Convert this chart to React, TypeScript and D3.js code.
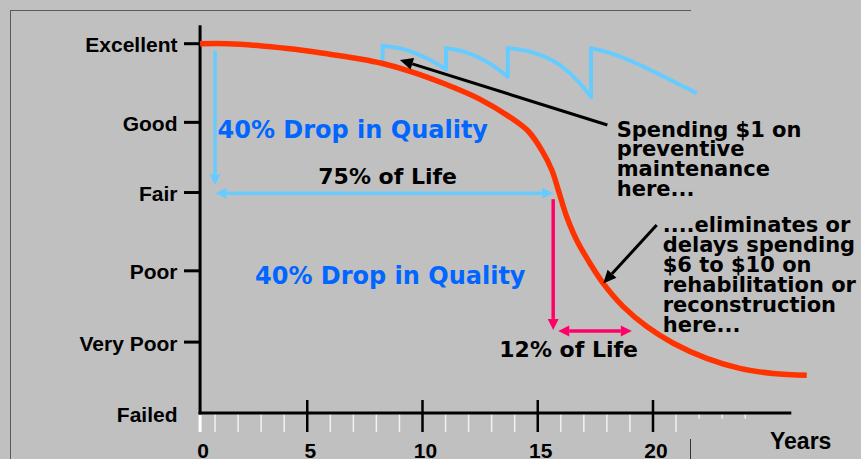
import React from "react";
import * as d3 from "d3";

// ---------- data ----------
const qualityLabels = ["Excellent", "Good", "Fair", "Poor", "Very Poor", "Failed"];
const qualityValues = [100, 78.7, 59.7, 38.5, 19.2, 0];

const yearTickLabels = ["0", "5", "10", "15", "20"];
const yearTickValues = [0.35, 5, 10, 15, 20];
const majorYears = [5, 10, 15, 20];
const minorYears = [1, 2, 3, 4, 6, 7, 8, 9, 11, 12, 13, 14, 16, 17, 18, 19, 21];
const shortMinorYears = [22, 23, 24];

// pavement condition curve without maintenance
const lifeYears = [0.35, 1.57, 3.02, 4.47, 5.92, 7.36, 8.23, 9.53, 10.98, 12.42, 13.87, 14.59, 15.17, 15.61, 15.89, 16.11, 16.26, 16.69, 17.27, 17.84, 18.71, 19.73, 20.88, 22.33, 23.77, 25.22, 26.67];
const lifeQuality = [100, 100, 99.4, 98.5, 97.2, 95.8, 94.7, 92.4, 89.1, 85.2, 79.8, 76.3, 71.2, 65.8, 60.4, 55.9, 53.1, 46.8, 40.5, 35.1, 28.8, 23.4, 18.9, 14.8, 12.1, 10.7, 10.2];

// preventive maintenance saw-tooth curve
const pmStartQuality = 94.85;
const pmSegYears = [
  [8.27, 9.02, 10.18, 11.02],
  [11.02, 11.92, 12.79, 13.7],
  [13.7, 14.81, 15.97, 16.83, 17.31],
  [17.31, 18.28, 19.58, 21.03, 21.9],
];
const pmSegQuality = [
  [99.4, 98.75, 96.05, 93.1],
  [98.75, 97.6, 95.1, 91.1],
  [98.75, 97.6, 94.2, 89.3, 85.6],
  [98.75, 97.2, 93.8, 89.3, 86.6],
];

// annotation arrows: [year, quality] tail -> tip
const blueDropFrom = [1.0, 98.1];
const blueDropTo = [1.0, 61.7];
const blueLifeLevel = 59.5;
const blueLifeYears = [1.02, 15.67];
const pinkDropFrom = [15.67, 57.9];
const pinkDropTo = [15.67, 22.5];
const pinkLifeLevel = 22.2;
const pinkLifeYears = [15.89, 19.08];
const pmArrowFrom = [18.02, 78.0];
const pmArrowTo = [9.02, 95.6];
const rehabArrowFrom = [20.16, 50.9];
const rehabArrowTo = [17.84, 35.1];

const dropText = "40% Drop in Quality";
const life75Text = "75% of Life";
const life12Text = "12% of Life";
const spendLines = ["Spending $1 on", "preventive", "maintenance", "here..."];
const rehabLines = ["....eliminates or", "delays spending", "$6 to $10 on", "rehabilitation or", "reconstruction", "here..."];
const xAxisTitle = "Years";

// ---------- styles ----------
const W = 861;
const H = 459;
const BG = "#c0c0c0";
const RED = "#ff3300";
const LBLUE = "#66ccff";
const BLUE = "#0066ff";
const PINK = "#ff0066";
const AXFONT = "'Liberation Sans', Arial, sans-serif";
const ANFONT = "'DejaVu Sans', Verdana, sans-serif";

function arrowHead(tip: number[], from: number[], len: number, half: number) {
  const dx = tip[0] - from[0];
  const dy = tip[1] - from[1];
  const d = Math.hypot(dx, dy) || 1;
  const ux = dx / d, uy = dy / d;
  const bx = tip[0] - ux * len, by = tip[1] - uy * len;
  const px = -uy, py = ux;
  return {
    base: [bx, by],
    points: `${tip[0]},${tip[1]} ${bx + px * half},${by + py * half} ${bx - px * half},${by - py * half}`,
  };
}

function Arrow({ a, b, color, width, len, half, both }: any) {
  const h1 = arrowHead(b, a, len, half);
  const h0 = both ? arrowHead(a, b, len, half) : null;
  const start = h0 ? h0.base : a;
  return (
    <g>
      <line x1={start[0]} y1={start[1]} x2={h1.base[0]} y2={h1.base[1]} stroke={color} strokeWidth={width} />
      <polygon points={h1.points} fill={color} />
      {h0 && <polygon points={h0.points} fill={color} />}
    </g>
  );
}

export default function App() {
  const x = d3.scaleLinear().domain([0, 20]).range([192, 653]);
  const y = d3.scaleLinear().domain([0, 100]).range([413, 43.7]);

  const axisX0 = x(yearTickValues[0]);
  const axisX1 = x(26);
  const axisY0 = y(0);
  const axisYTop = y(105);

  const lifeLine = d3
    .line<number>()
    .x((_, i) => x(lifeYears[i]))
    .y((d) => y(d))
    .curve(d3.curveCatmullRom.alpha(0.5));

  const pmLine = d3
    .line<[number, number]>()
    .x((d) => x(d[0]))
    .y((d) => y(d[1]))
    .curve(d3.curveMonotoneX);

  const P = (p: number[]) => [x(p[0]), y(p[1])];

  let prevQ = pmStartQuality;
  const pmPaths = pmSegYears.map((yrs, si) => {
    const pts = yrs.map((yr, i) => [yr, pmSegQuality[si][i]] as [number, number]);
    const vert = `M${x(yrs[0])},${y(prevQ)}L${x(yrs[0])},${y(pts[0][1])}`;
    prevQ = pts[pts.length - 1][1];
    return { vert, curve: pmLine(pts) as string };
  });

  return (
    <svg width={W} height={H} style={{ position: "absolute", left: 0, top: 0 }}>
      <rect x={0} y={0} width={W} height={H} fill={BG} />
      {/* frame */}
      <line x1={10} y1={10.5} x2={691} y2={10.5} stroke="#5a5a5a" strokeWidth={1} />
      <line x1={10.5} y1={10} x2={10.5} y2={H} stroke="#5a5a5a" strokeWidth={1} />
      <line x1={690.5} y1={439} x2={690.5} y2={H} stroke="#333" strokeWidth={1} />

      {/* x axis ticks */}
      <line x1={axisX0} y1={axisY0} x2={axisX0} y2={432} stroke="#ffffff" strokeWidth={3} />
      {minorYears.map((yr) => (
        <line key={"mi" + yr} x1={x(yr)} y1={axisY0} x2={x(yr)} y2={432} stroke="#f2f2f2" strokeWidth={1.5} />
      ))}
      {shortMinorYears.map((yr) => (
        <line key={"ms" + yr} x1={x(yr)} y1={axisY0} x2={x(yr)} y2={418.5} stroke="#f2f2f2" strokeWidth={1.5} />
      ))}
      {majorYears.map((yr) => (
        <line key={"ma" + yr} x1={x(yr)} y1={400} x2={x(yr)} y2={432} stroke="#000" strokeWidth={2.5} />
      ))}

      {/* axes */}
      <line x1={axisX0 - 1.5} y1={axisY0} x2={axisX1} y2={axisY0} stroke="#000" strokeWidth={3} />
      <line x1={axisX0} y1={axisYTop} x2={axisX0} y2={axisY0 + 1.5} stroke="#000" strokeWidth={3} />

      {/* y ticks and labels */}
      {qualityValues.map((q, i) => (
        <g key={"q" + i}>
          {q > 0 && <line x1={184} y1={y(q)} x2={axisX0} y2={y(q)} stroke="#000" strokeWidth={3} />}
          <text x={177.5} y={y(q) + 8.6} textAnchor="end" fontFamily={AXFONT} fontWeight="bold" fontSize={21} fill="#000">
            {qualityLabels[i]}
          </text>
        </g>
      ))}

      {/* x tick labels */}
      {yearTickValues.map((v, i) => (
        <text key={"yl" + i} x={x(v) + 3} y={457.5} textAnchor="middle" fontFamily={AXFONT} fontWeight="bold" fontSize={21} fill="#000">
          {yearTickLabels[i]}
        </text>
      ))}
      <text x={770} y={448.5} fontFamily={AXFONT} fontWeight="bold" fontSize={23} fill="#000">
        {xAxisTitle}
      </text>

      {/* curves */}
      {pmPaths.map((p, i) => (
        <g key={"pm" + i}>
          <path d={p.vert} fill="none" stroke={LBLUE} strokeWidth={4} strokeLinecap="square" />
          <path d={p.curve} fill="none" stroke={LBLUE} strokeWidth={4} />
        </g>
      ))}
      <path d={lifeLine(lifeQuality) as string} fill="none" stroke={RED} strokeWidth={5.5} />

      {/* annotation arrows */}
      <Arrow a={P(blueDropFrom)} b={P(blueDropTo)} color={LBLUE} width={3.5} len={11} half={5.5} />
      <Arrow a={[x(blueLifeYears[0]), y(blueLifeLevel)]} b={[x(blueLifeYears[1]), y(blueLifeLevel)]} color={LBLUE} width={3.5} len={11} half={5.5} both />
      <Arrow a={P(pinkDropFrom)} b={P(pinkDropTo)} color={PINK} width={3.5} len={11} half={5.5} />
      <Arrow a={[x(pinkLifeYears[0]), y(pinkLifeLevel)]} b={[x(pinkLifeYears[1]), y(pinkLifeLevel)]} color={PINK} width={3.5} len={11} half={5.5} both />
      <Arrow a={P(pmArrowFrom)} b={P(pmArrowTo)} color="#000" width={3} len={13} half={6} />
      <Arrow a={P(rehabArrowFrom)} b={P(rehabArrowTo)} color="#000" width={3} len={13} half={6} />

      {/* texts */}
      <text x={217.5} y={138.3} fontFamily={ANFONT} fontWeight="bold" fontSize={24} fill={BLUE}>{dropText}</text>
      <text x={255} y={284.3} fontFamily={ANFONT} fontWeight="bold" fontSize={24} fill={BLUE}>{dropText}</text>
      <text x={318.3} y={184} fontFamily={ANFONT} fontWeight="bold" fontSize={22} fill="#000">{life75Text}</text>
      <text x={499.3} y={356.7} fontFamily={ANFONT} fontWeight="bold" fontSize={22} fill="#000">{life12Text}</text>
      <text fontFamily={ANFONT} fontWeight="bold" fontSize={21} fill="#000">
        {spendLines.map((l, i) => (
          <tspan key={"s" + i} x={616.7} y={136.5 + i * 19.9}>{l}</tspan>
        ))}
      </text>
      <text fontFamily={ANFONT} fontWeight="bold" fontSize={21} fill="#000">
        {rehabLines.map((l, i) => (
          <tspan key={"r" + i} x={662.7} y={231.7 + i * 20}>{l}</tspan>
        ))}
      </text>
    </svg>
  );
}
